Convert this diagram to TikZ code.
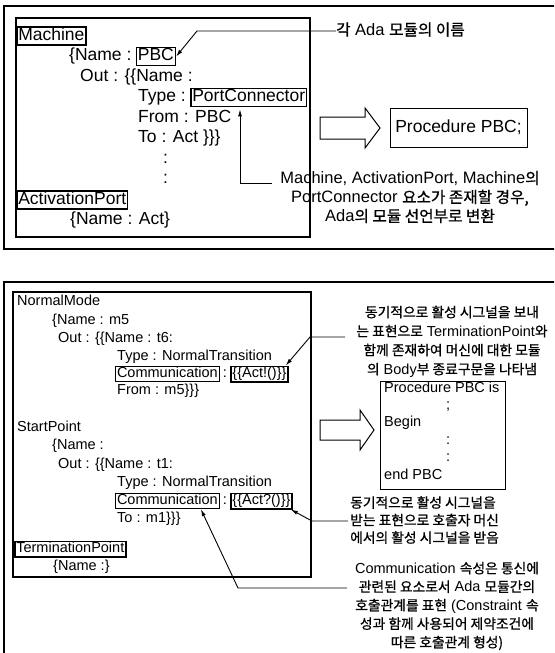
\documentclass[tikz,border=0pt]{standalone}
\usepackage{fontspec}
\setmainfont{Liberation Sans}
\newfontfamily\krfont[Scale=0.95,FakeBold=0.8]{Noto Sans CJK KR}
\newcommand\krt[1]{{\krfont #1}}
\usetikzlibrary{arrows.meta,calc}
\begin{document}
\begin{tikzpicture}[x=1pt,y=-1pt,
  panel/.style={line width=1.3pt},
  ibox/.style={line width=1.2pt},
  wdT/.style={anchor=west, inner xsep=0pt, inner ysep=0pt, font=\fontsize{17.5}{21}\selectfont, text height=12.6pt, text depth=3.7pt},
  bxT/.style={wdT, draw, line width=1.5pt, inner xsep=1.5pt, inner ysep=1pt},
  wdB/.style={anchor=west, inner xsep=0pt, inner ysep=0pt, font=\fontsize{14.5}{17}\selectfont, text height=10.4pt, text depth=3pt},
  bxB/.style={wdB, draw, line width=1pt, inner xsep=1.5pt, inner ysep=1pt},
  bxBk/.style={bxB, line width=1.6pt},
  con/.style={line width=0.9pt},
  arr/.style={con, -{Latex[length=7pt,width=4pt]}},
  hollow/.style={line width=1pt, fill=white},
  note/.style={align=center, inner sep=0pt},
]
\useasboundingbox (0,0) rectangle (554,653);
\clip (0,0) rectangle (554,653);
\fill[white] (0,0) rectangle (554,653);

% ---------- top panel ----------
\draw[panel] (560,6) -- (4,6) -- (4,249) -- (560,249);
\draw[ibox] (16,18) rectangle (310,237);

\node[bxT] (mach) at (16,36) {Machine};
\node[wdT] (l2) at (69,56.5) {\{Name :};
\node[bxT] (pbc) at ([xshift=4pt]l2.east) {PBC};
\node[wdT] (l3) at (80,77) {Out : \{\{Name :};
\node[wdT] (l4) at (138,97.5) {Type :};
\node[bxT] (pc) at ([xshift=4pt]l4.east) {PortConnector};
\node[wdT] (l5) at (138,118) {From : PBC};
\node[wdT] (l6) at (138,138.5) {To : Act \}\}\}};
\node[wdT] (d1) at (163,159) {:};
\node[wdT] (d2) at (163,179.5) {:};
\node[bxT] (ap) at (16,200) {ActivationPort};
\node[wdT] (l9) at (70,220.5) {\{Name : Act\}};

\node[wdT, font=\fontsize{16.5}{20}\selectfont] (kr1) at (336,31) {\krt{각} Ada \krt{모듈의 이름}};
\coordinate (c1) at (197,31);
\draw[arr] (kr1.west) -- (c1) -- (pbc.east);

\draw[hollow] (320,117) -- (365,117) -- (365,108) -- (380,128) -- (365,148) -- (365,139) -- (320,139) -- cycle;
\node[draw, line width=1pt, minimum width=137pt, minimum height=39pt, inner sep=0pt,
      font=\fontsize{17.5}{21}\selectfont] (proc1) at (458.5,127.5) {Procedure PBC;};

\node[note, font=\fontsize{16.5}{19}\selectfont] (ann1) at (410,197)
  {Machine, ActivationPort, Machine\krt{의}\\PortConnector \krt{요소가 존재할 경우,}\\Ada\krt{의 모듈 선언부로 변환}};
\coordinate (e1) at (272,183);
\coordinate (c2) at (240,183);
\draw[arr, shorten >=2pt] (e1) -- (c2) -- (c2 |- pc.south);

% ---------- bottom panel ----------
\draw[panel] (560,282) -- (4,282) -- (4,700);
\draw[ibox] (13,292) rectangle (311,577);

\node[wdB] (nm) at (17,302) {NormalMode};
\node[wdB] (b2) at (52,320.5) {\{Name : m5};
\node[wdB] (b3) at (58,339) {Out : \{\{Name : t6:};
\node[wdB] (b4) at (117,357) {Type : NormalTransition};
\node[bxB] (comm1) at (115,374) {Communication};
\node[wdB] (b5c) at ([xshift=3pt]comm1.east) {:};
\node[bxBk] (act1) at ([xshift=3pt]b5c.east) {\{\{Act!()\}\}};
\node[wdB] (b6) at (117,391) {From : m5\}\}\}};
\node[wdB] (sp) at (17,428) {StartPoint};
\node[wdB] (b8) at (52,446) {\{Name :};
\node[wdB] (b9) at (58,464.5) {Out : \{\{Name : t1:};
\node[wdB] (b10) at (117,483) {Type : NormalTransition};
\node[bxB] (comm2) at (115,501) {Communication};
\node[wdB] (b11c) at ([xshift=3pt]comm2.east) {:};
\node[bxBk] (act2) at ([xshift=3pt]b11c.east) {\{\{Act?()\}\}};
\node[wdB] (b12) at (117,519) {To : m1\}\}\}};
\node[bxBk] (tp) at (14,549) {TerminationPoint};
\node[wdB] (b14) at (53,567) {\{Name :\}};

\node[note, font=\fontsize{14.5}{19}\selectfont] (ann2) at (452,341.5)
  {\krt{동기적으로 활성 시그널을 보내}\\\krt{는 표현으로} TerminationPoint\krt{와}\\\krt{함께 존재하여 머신에 대한 모듈}\\\krt{의} Body\krt{부 종료구문을 나타냄}};
\coordinate (e2) at (345,337);
\coordinate (c3) at (310,337);
\draw[arr] (e2) -- (c3) -- ([xshift=-3pt]act1.north east);

\draw[hollow] (320,420) -- (360,420) -- (360,410) -- (374,430) -- (360,450) -- (360,440) -- (320,440) -- cycle;
\node[draw, line width=1pt, minimum width=125pt, minimum height=108pt, inner sep=0pt] (proc2) at (442.5,435) {};
\node[wdB] (p1) at (384,389) {Procedure PBC is};
\node[wdB] (p2) at (446,406) {;};
\node[wdB] (p3) at (384,423) {Begin};
\node[wdB] (p4) at (446,441) {:};
\node[wdB] (p5) at (446,458) {:};
\node[wdB] (p6) at (384,476) {end PBC};

\node[note, align=left, anchor=west, font=\fontsize{14.5}{17.5}\selectfont] (ann3) at (350,520)
  {\krt{동기적으로 활성 시그널을}\\\krt{받는 표현으로 호출자 머신}\\\krt{에서의 활성 시그널을 받음}};
\coordinate (e3) at (348,521);
\coordinate (c4) at (312,521);
\draw[arr] (e3) -- (c4) -- ([xshift=-2pt]act2.south east);

\node[note, font=\fontsize{14.5}{18.5}\selectfont] (ann4) at (447,606)
  {Communication \krt{속성은 통신에}\\\krt{관련된 요소로서} Ada \krt{모듈간의}\\\krt{호출관계를 표현} (Constraint \krt{속}\\\krt{성과 함께 사용되어 제약조건에}\\\krt{따른 호출관계 형성)}};
\coordinate (e4) at (347,588);
\coordinate (c5) at (238,588);
\draw[arr] (e4) -- (c5) -- ($(comm2.south west)!0.82!(comm2.south east)$);
\end{tikzpicture}
\end{document}
